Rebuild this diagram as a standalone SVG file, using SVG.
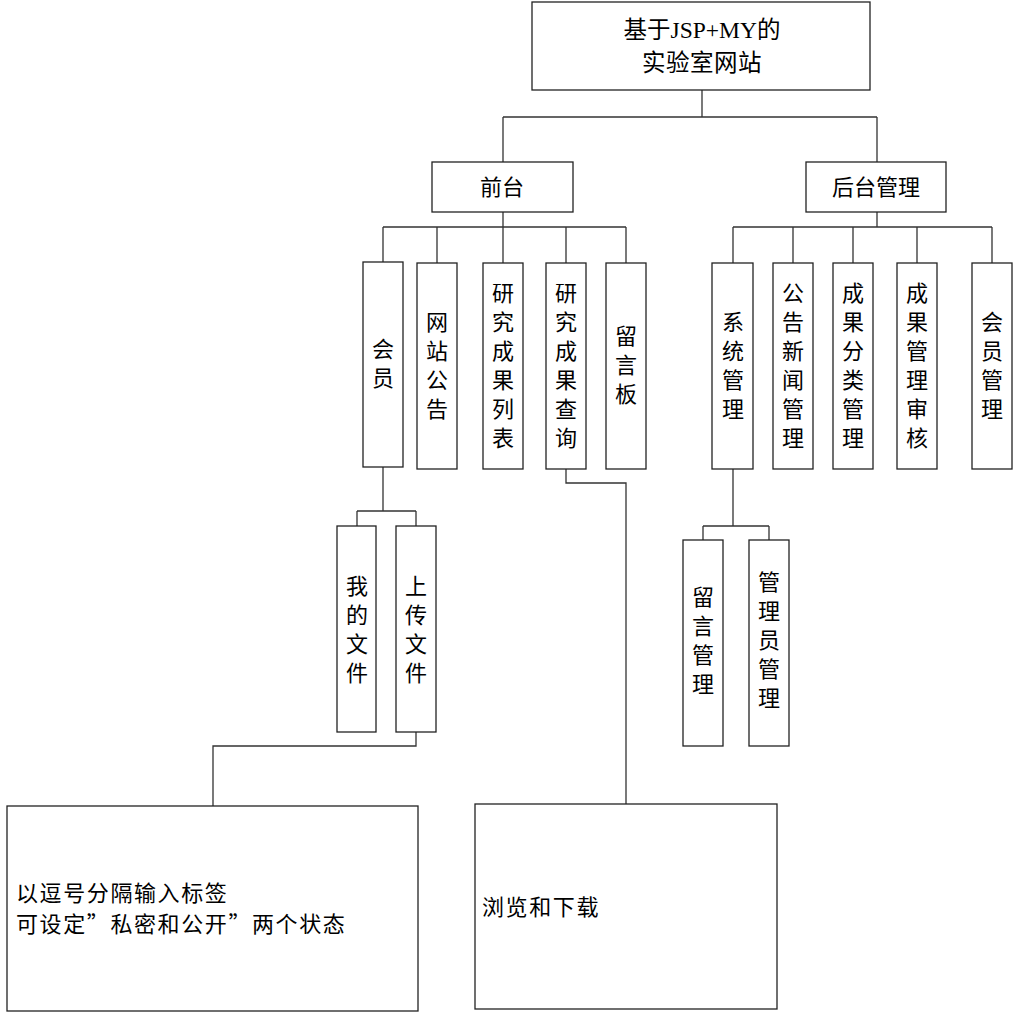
<svg xmlns="http://www.w3.org/2000/svg" width="1017" height="1013" viewBox="0 0 1017 1013">
<style>
rect{fill:#fff;stroke:#222;stroke-width:1.3}
.c path{fill:none;stroke:#333;stroke-width:1.3}
text{font-family:"Noto Sans CJK SC","Liberation Sans",sans-serif;font-size:22px;fill:#000}
.m{text-anchor:middle}
.r{font-family:"Liberation Serif","Noto Sans CJK SC",serif;font-size:23.5px}
.b{letter-spacing:1.6px}
</style>
<rect x="0" y="0" width="1017" height="1013" style="stroke:none"/>
<g class="c" id="connectors">
<path d="M702 90V117M503 117H877M503 117V162M877 117V162"/>
<path d="M503 212V227M383 227H626M383 227V262M437 227V263M503 227V263M566 227V263M626 227V263"/>
<path d="M877 212V227M733 227H992M733 227V263M793 227V263M853 227V263M917 227V263M992 227V263"/>
<path d="M383 467V511M357 511H416M357 511V526M416 511V526"/>
<path d="M416 732V746H213V806"/>
<path d="M566 469V483H626V804"/>
<path d="M733 469V526M703 526H769M703 526V540M769 526V540"/>
</g>
<g id="root"><rect x="532" y="2" width="338" height="88"/>
<text class="m r" x="702" y="38">基于JSP+MY的</text><text class="m r" x="702" y="71" style="letter-spacing:0.5px">实验室网站</text></g>
<g id="qiantai"><rect x="432" y="162" width="141" height="50"/><text class="m" x="502" y="195">前台</text></g>
<g id="houtai"><rect x="806" y="162" width="140" height="50"/><text class="m" x="876" y="195">后台管理</text></g>
<g id="huiyuan"><rect x="363" y="262" width="40" height="205"/><text class="m" x="383"><tspan x="383" y="357">会</tspan><tspan x="383" y="386">员</tspan></text></g>
<g id="wangzhan"><rect x="417" y="263" width="40" height="206"/><text class="m"><tspan x="437" y="330">网</tspan><tspan x="437" y="359">站</tspan><tspan x="437" y="388">公</tspan><tspan x="437" y="417">告</tspan></text></g>
<g id="liebiao"><rect x="483" y="263" width="40" height="206"/><text class="m"><tspan x="503" y="301">研</tspan><tspan x="503" y="330">究</tspan><tspan x="503" y="359">成</tspan><tspan x="503" y="388">果</tspan><tspan x="503" y="417">列</tspan><tspan x="503" y="446">表</tspan></text></g>
<g id="chaxun"><rect x="546" y="263" width="40" height="206"/><text class="m"><tspan x="566" y="301">研</tspan><tspan x="566" y="330">究</tspan><tspan x="566" y="359">成</tspan><tspan x="566" y="388">果</tspan><tspan x="566" y="417">查</tspan><tspan x="566" y="446">询</tspan></text></g>
<g id="liuyanban"><rect x="606" y="263" width="40" height="206"/><text class="m"><tspan x="626" y="344">留</tspan><tspan x="626" y="373">言</tspan><tspan x="626" y="402">板</tspan></text></g>
<g id="xitong"><rect x="712" y="263" width="41" height="206"/><text class="m"><tspan x="733" y="330">系</tspan><tspan x="733" y="359">统</tspan><tspan x="733" y="388">管</tspan><tspan x="733" y="417">理</tspan></text></g>
<g id="gonggao"><rect x="773" y="263" width="40" height="206"/><text class="m"><tspan x="793" y="301">公</tspan><tspan x="793" y="330">告</tspan><tspan x="793" y="359">新</tspan><tspan x="793" y="388">闻</tspan><tspan x="793" y="417">管</tspan><tspan x="793" y="446">理</tspan></text></g>
<g id="fenlei"><rect x="833" y="263" width="40" height="206"/><text class="m"><tspan x="853" y="301">成</tspan><tspan x="853" y="330">果</tspan><tspan x="853" y="359">分</tspan><tspan x="853" y="388">类</tspan><tspan x="853" y="417">管</tspan><tspan x="853" y="446">理</tspan></text></g>
<g id="shenhe"><rect x="897" y="263" width="40" height="206"/><text class="m"><tspan x="917" y="301">成</tspan><tspan x="917" y="330">果</tspan><tspan x="917" y="359">管</tspan><tspan x="917" y="388">理</tspan><tspan x="917" y="417">审</tspan><tspan x="917" y="446">核</tspan></text></g>
<g id="huiyuanguanli"><rect x="972" y="263" width="40" height="206"/><text class="m"><tspan x="992" y="330">会</tspan><tspan x="992" y="359">员</tspan><tspan x="992" y="388">管</tspan><tspan x="992" y="417">理</tspan></text></g>
<g id="wodewenjian"><rect x="337" y="526" width="39" height="206"/><text class="m"><tspan x="357" y="594">我</tspan><tspan x="357" y="623">的</tspan><tspan x="357" y="652">文</tspan><tspan x="357" y="681">件</tspan></text></g>
<g id="shangchuan"><rect x="396" y="526" width="40" height="206"/><text class="m"><tspan x="416" y="594">上</tspan><tspan x="416" y="623">传</tspan><tspan x="416" y="652">文</tspan><tspan x="416" y="681">件</tspan></text></g>
<g id="liuyanguanli"><rect x="683" y="540" width="40" height="206"/><text class="m"><tspan x="703" y="605">留</tspan><tspan x="703" y="634">言</tspan><tspan x="703" y="663">管</tspan><tspan x="703" y="692">理</tspan></text></g>
<g id="guanliyuan"><rect x="749" y="540" width="40" height="206"/><text class="m"><tspan x="769" y="590">管</tspan><tspan x="769" y="619">理</tspan><tspan x="769" y="648">员</tspan><tspan x="769" y="677">管</tspan><tspan x="769" y="706">理</tspan></text></g>
<g id="biaoqian"><rect x="7" y="806" width="411" height="205"/><text class="b" x="16" y="901">以逗号分隔输入标签</text><text class="b" x="16" y="932">可设定”私密和公开”两个状态</text></g>
<g id="liulan"><rect x="475" y="804" width="302" height="205"/><text class="b" x="482" y="915">浏览和下载</text></g>
</svg>
